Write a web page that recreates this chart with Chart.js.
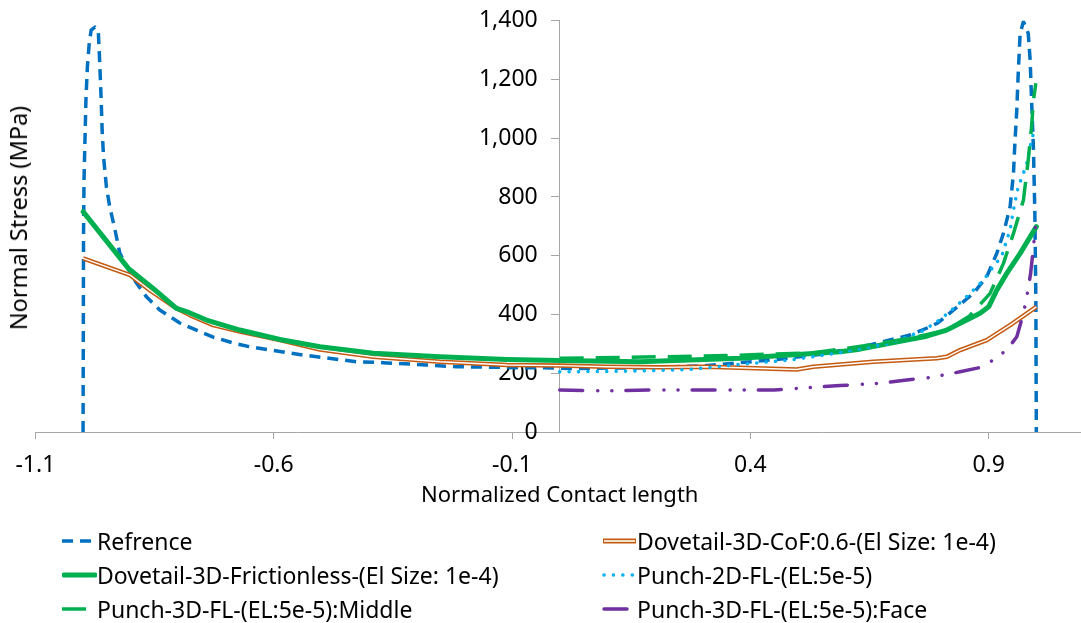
<!DOCTYPE html>
<html>
<head>
<meta charset="utf-8">
<script src="https://cdn.jsdelivr.net/npm/chart.js@4.4.0/dist/chart.umd.min.js"></script>
<style>
  html, body { margin: 0; padding: 0; background: #fff; overflow: hidden; }
  #wrap { position: relative; width: 1081px; height: 623px; overflow: hidden; font-family: "Noto Sans", sans-serif; color: #000; }
  #chart { position: absolute; left: 0; top: 0; }
  #ytitle { position: absolute; left: 18px; top: 218px; transform: translate(-50%, -50%) rotate(-90deg); white-space: nowrap; font-size: 23.5px; }
  .item { position: absolute; display: flex; align-items: center; font-size: 23px; white-space: nowrap; transform: translateY(-50%); }
  .item svg { width: 35px; height: 12px; display: block; }
</style>
</head>
<body>
<div id="wrap">
  <canvas id="chart" width="1084" height="623"></canvas>
  <div id="ytitle">Normal Stress (MPa)</div>
  <div id="legend"></div>
</div>
<script>
// series names (legend order)
var seriesNames = [
    "Refrence",
    "Dovetail-3D-CoF:0.6-(El Size: 1e-4)",
    "Dovetail-3D-Frictionless-(El Size: 1e-4)",
    "Punch-2D-FL-(EL:5e-5)",
    "Punch-3D-FL-(EL:5e-5):Middle",
    "Punch-3D-FL-(EL:5e-5):Face"
];

// x axis ticks
var xTicks = [-1.1, -0.6, -0.1, 0.4, 0.9];
var xTickLabels = ["-1.1", "-0.6", "-0.1", "0.4", "0.9"];

// Refrence
var refX = [-1.0, -0.999, -0.998, -0.996, -0.994, -0.991, -0.987, -0.983, -0.975, -0.968, -0.965, -0.962, -0.960, -0.957, -0.951, -0.944, -0.933, -0.923, -0.908, -0.888, -0.867, -0.839, -0.797, -0.762, -0.727, -0.685, -0.650, -0.539, -0.489, -0.426, -0.371, -0.279, -0.216, -0.161, -0.090, -0.014, 0.036, 0.099, 0.154, 0.196, 0.30, 0.378, 0.45, 0.55, 0.65, 0.735, 0.777, 0.794, 0.868, 0.896, 0.917, 0.931, 0.945, 0.952, 0.955, 0.959, 0.962, 0.966, 0.973, 0.983, 0.987, 0.990, 0.994, 0.997, 0.999, 1.0];
var refY = [0, 677, 858, 994, 1130, 1242, 1324, 1368, 1378, 1362, 1256, 1130, 1028, 936, 834, 766, 688, 609, 562, 507, 460, 415, 371, 347, 323, 303, 290, 262, 252, 239, 236, 228, 222, 221, 219, 218, 216, 218, 218, 220, 225, 236, 246, 265, 296, 330, 358, 372, 472, 529, 608, 676, 767, 880, 983, 1096, 1221, 1357, 1397, 1357, 1266, 1130, 960, 733, 449, 0];

// Dovetail-3D-CoF:0.6
var cofX = [-1.0, -0.901, -0.860, -0.804, -0.776, -0.727, -0.671, -0.587, -0.503, -0.391, -0.251, -0.111, 0.0, 0.099, 0.21, 0.308, 0.497, 0.532, 0.658, 0.791, 0.812, 0.840, 0.896, 0.945, 1.0];
var cofY = [591, 534, 483, 421, 398, 364, 342, 313, 281, 256, 239, 228, 226, 222, 220, 222, 213, 222, 239, 251, 256, 279, 313, 364, 426];

// Dovetail-3D-Frictionless
var fricX = [-1.0, -0.905, -0.853, -0.804, -0.783, -0.741, -0.671, -0.587, -0.503, -0.391, -0.251, -0.111, 0.0, 0.168, 0.378, 0.588, 0.63, 0.728, 0.77, 0.812, 0.854, 0.882, 0.900, 0.917, 0.938, 0.966, 1.0];
var fricY = [750, 557, 489, 421, 410, 381, 347, 315, 290, 268, 256, 247, 243, 239, 251, 273, 282, 313, 326, 347, 381, 404, 426, 483, 540, 608, 699];

// Punch-2D-FL
var p2dX = [0.0, 0.10, 0.196, 0.273, 0.378, 0.483, 0.588, 0.693, 0.763, 0.80, 0.833, 0.861, 0.889, 0.910, 0.927, 0.938, 0.945, 0.952, 0.962, 0.973, 0.980, 0.987, 0.994, 0.999];
var p2dY = [205, 206, 209, 213, 230, 245, 270, 302, 345, 385, 430, 472, 517, 563, 597, 654, 688, 756, 835, 881, 915, 971, 1017, 1028];

// Punch-3D-FL Middle
var midX = [0.0, 0.21, 0.35, 0.532, 0.602, 0.672, 0.749, 0.812, 0.86, 0.903, 0.931, 0.952, 0.973, 0.983, 0.990, 0.994, 0.999];
var midY = [251, 256, 260, 270, 285, 302, 324, 347, 395, 472, 574, 676, 790, 926, 1039, 1130, 1187];

// Punch-3D-FL Face
var faceX = [0.0, 0.099, 0.196, 0.45, 0.504, 0.588, 0.672, 0.728, 0.780, 0.840, 0.889, 0.938, 0.959, 0.973, 0.978, 0.983, 0.988, 0.994, 0.999];
var faceY = [143, 140, 143, 143, 149, 158, 166, 177, 186, 205, 222, 279, 324, 404, 444, 489, 540, 631, 716];

function pts(xs, ys) {
    return xs.map(function (x, i) { return { x: x, y: ys[i] }; });
}

var FONT = "'Noto Sans', sans-serif";
var AXIS = "#a6a6a6";

// line styles per series (legend order); orange gets an extra white core
var styles = [
    { color: "#0070C0", width: 3.5, dash: [11, 7], cap: "butt" },
    { color: "#C55A11", width: 4.5, dash: [], cap: "butt", core: true },
    { color: "#00B050", width: 5, dash: [], cap: "round" },
    { color: "#00B0F0", width: 3.5, dash: [0.1, 9.3], cap: "round" },
    { color: "#00B050", width: 3.5, dash: [24, 12], cap: "butt" },
    { color: "#7030A0", width: 3.5, dash: [23, 15, 0.1, 14, 0.1, 14], cap: "round" }
];
var seriesData = [pts(refX, refY), pts(cofX, cofY), pts(fricX, fricY), pts(p2dX, p2dY), pts(midX, midY), pts(faceX, faceY)];

var datasets = [];
seriesData.forEach(function (d, i) {
    var s = styles[i];
    datasets.push({
        label: seriesNames[i], data: d, borderColor: s.color, borderWidth: s.width,
        borderDash: s.dash, borderCapStyle: s.cap, borderJoinStyle: "round",
        pointRadius: 0, tension: 0, fill: false, order: 20 - i * 2
    });
    if (s.core) {
        datasets.push({
            label: seriesNames[i] + " core", data: d, borderColor: "#ffffff", borderWidth: 1.4,
            pointRadius: 0, tension: 0, fill: false, order: 19 - i * 2
        });
    }
});

new Chart(document.getElementById("chart"), {
    type: "line",
    data: { datasets: datasets },
    options: {
        responsive: false,
        animation: false,
        layout: { padding: { left: 35.4, right: 0, top: 20.7, bottom: 111 } },
        plugins: { legend: { display: false }, tooltip: { enabled: false } },
        scales: {
            x: {
                type: "linear", min: -1.1, max: 1.1,
                afterBuildTicks: function (s) { s.ticks = xTicks.map(function (v) { return { value: v }; }); },
                afterFit: function (s) { s.height = 80; },
                ticks: {
                    autoSkip: false, maxRotation: 0, padding: 13, color: "#000",
                    font: { family: FONT, size: 23 },
                    callback: function (v, i) { return xTickLabels[i]; }
                },
                grid: { drawOnChartArea: false, tickLength: 7, color: AXIS },
                border: { color: AXIS },
                title: { display: true, text: "Normalized Contact length", color: "#000", font: { family: FONT, size: 22 }, padding: { top: 0, bottom: 3 } }
            },
            y: {
                type: "linear", min: 0, max: 1400, position: "center",
                afterFit: function (s) { s.paddingTop = 0; s.paddingBottom = 0; },
                ticks: { stepSize: 200, padding: 14, color: "#000", font: { family: FONT, size: 23 } },
                grid: { drawOnChartArea: false, tickLength: 8, color: AXIS },
                border: { color: AXIS }
            }
        }
    }
});

// legend: two columns, three rows
var legendPos = [[62, 541], [602, 541], [62, 575], [602, 575], [62, 609], [602, 609]];
var legend = document.getElementById("legend");
seriesNames.forEach(function (name, i) {
    var s = styles[i];
    var svg = '<svg viewBox="0 0 35 12">';
    if (s.core) {
        svg += '<line x1="1" y1="6" x2="34" y2="6" stroke="' + s.color + '" stroke-width="5"/>';
        svg += '<line x1="2" y1="6" x2="33" y2="6" stroke="#fff" stroke-width="1.6"/>';
    } else {
        var dash = s.dash.length ? s.dash.join(" ") : "none";
        var x1 = s.cap === "round" ? 2 : 0;
        svg += '<line x1="' + x1 + '" y1="6" x2="' + (35 - x1) + '" y2="6" stroke="' + s.color + '" stroke-width="' + s.width +
            '" stroke-dasharray="' + dash + '" stroke-linecap="' + s.cap + '"/>';
    }
    svg += '</svg>';
    var div = document.createElement("div");
    div.className = "item";
    div.style.left = legendPos[i][0] + "px";
    div.style.top = legendPos[i][1] + "px";
    div.innerHTML = svg + '<span>' + name + '</span>';
    legend.appendChild(div);
});
</script>
</body>
</html>
